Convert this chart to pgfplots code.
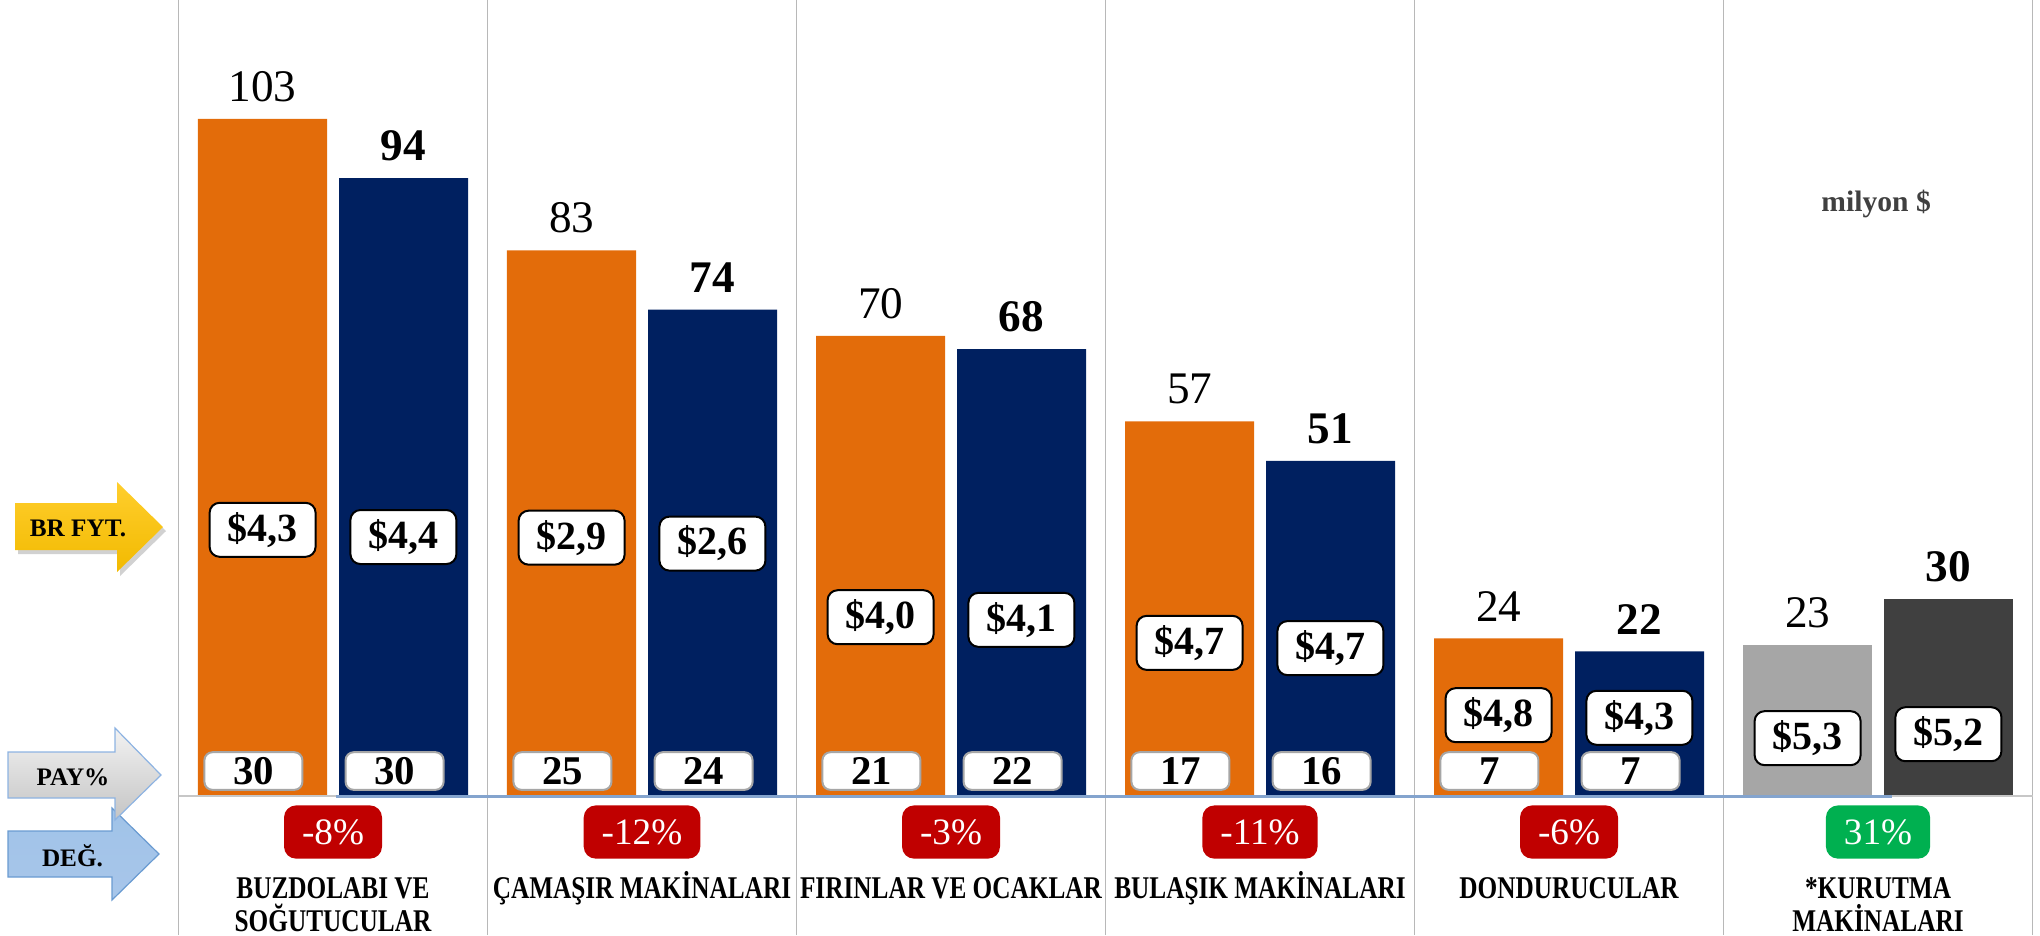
\documentclass[border=0pt]{standalone}
\usepackage{fontspec}
\setmainfont{Liberation Serif}
\newfontfamily\condfont{Liberation Serif}[FakeStretch=0.8]
\usepackage{pgfplots}
\pgfplotsset{compat=1.18}

\definecolor{barorange}{RGB}{227,108,10}
\definecolor{barnavy}{RGB}{0,32,96}
\definecolor{barlight}{RGB}{166,166,166}
\definecolor{bardark}{RGB}{64,64,64}
\definecolor{chgred}{RGB}{192,0,0}
\definecolor{chggreen}{RGB}{0,176,80}
\definecolor{lineblue}{RGB}{132,164,206}

\tikzset{
  valuelbl/.style={anchor=south, inner sep=0pt, yshift=4.1pt, font=\fontsize{11.3}{12}\selectfont},
  pricebox/.style={anchor=center, draw=black, line width=0.5pt, fill=white, rounded corners=2.5pt,
    minimum width=26.5pt, minimum height=13.5pt, inner sep=1pt, font=\bfseries\fontsize{10}{11}\selectfont},
  paybox/.style={anchor=center, draw=black!35, line width=0.5pt, fill=white, rounded corners=2pt,
    minimum width=24.5pt, minimum height=9.4pt, inner sep=0pt, font=\bfseries\fontsize{10.2}{10}\selectfont},
  chgbox/.style={anchor=center, draw=none, rounded corners=3pt, text=white,
    minimum height=13.3pt, inner xsep=4.5pt, inner ysep=0pt, font=\fontsize{9.3}{10}\selectfont},
}

\begin{document}
\begin{tikzpicture}
\useasboundingbox (0,0) rectangle (510pt,233.75pt);
\begin{axis}[
  at={(0,0)}, anchor=south west,
  width=510pt, height=233.75pt, scale only axis,
  xmin=-1.0777, xmax=5.5243, ymin=-21.147, ymax=121.10,
  clip=false,
  axis line style={draw=none},
  major tick length=0pt, minor tick length=0pt,
  ytick=\empty,
  xtick={0,...,5},
  xticklabels={{\rule{0pt}{7.2pt}BUZDOLABI VE\\SOĞUTUCULAR},
               {\rule{0pt}{7.2pt}ÇAMAŞIR MAKİNALARI},
               {\rule{0pt}{7.2pt}FIRINLAR VE OCAKLAR},
               {\rule{0pt}{7.2pt}BULAŞIK MAKİNALARI},
               {\rule{0pt}{7.2pt}DONDURUCULAR},
               {\rule{0pt}{7.2pt}*KURUTMA\\MAKİNALARI}},
  xticklabel style={font=\condfont\bfseries\fontsize{7.9}{8.25}\selectfont,
    align=center, anchor=north, inner sep=0pt, yshift=16.45pt},
  minor xtick={-0.5,0.5,...,5.5},
  xminorgrids,
  minor grid style={draw=black!28, line width=0.45pt},
  /pgf/number format/assume math mode=true,
]
% bars (milyon $)
\addplot[ybar, bar width=0.4175, bar shift=-0.2282, fill=barorange, draw=none,
  nodes near coords, nodes near coords style={valuelbl, xshift=-17.6pt}]
  coordinates {(0,103) (1,83) (2,70) (3,57) (4,24)};
\addplot[ybar, bar width=0.4175, bar shift=0.2282, fill=barnavy, draw=none,
  nodes near coords, nodes near coords style={valuelbl, xshift=17.6pt, font=\bfseries\fontsize{11.3}{12}\selectfont}]
  coordinates {(0,94) (1,74) (2,68) (3,51) (4,22)};
\addplot[ybar, bar width=0.4175, bar shift=-0.2282, fill=barlight, draw=none,
  nodes near coords, nodes near coords style={valuelbl, xshift=-17.6pt}]
  coordinates {(5,23)};
\addplot[ybar, bar width=0.4175, bar shift=0.2282, fill=bardark, draw=none,
  nodes near coords, nodes near coords style={valuelbl, xshift=17.6pt, font=\bfseries\fontsize{11.3}{12}\selectfont}]
  coordinates {(5,30)};

% base lines
\addplot[draw=black!22, line width=0.6pt, mark=none] coordinates {(-0.5,0) (5.5,0)};
\addplot[draw=lineblue, line width=0.8pt, mark=none] coordinates {(0.01,-0.12) (5.045,-0.12)};

% BR FYT. (unit price)
\addplot[draw=none, mark=none, point meta=explicit symbolic,
  nodes near coords={\$\pgfplotspointmeta}, nodes near coords style={pricebox, xshift=-17.6pt}]
  coordinates {(0,40.5) [{4,3}] (1,39.3) [{2,9}] (2,27.2) [{4,0}] (3,23.3) [{4,7}] (4,12.3) [{4,8}] (5,8.8) [{5,3}]};
\addplot[draw=none, mark=none, point meta=explicit symbolic,
  nodes near coords={\$\pgfplotspointmeta}, nodes near coords style={pricebox, xshift=17.6pt}]
  coordinates {(0,39.4) [{4,4}] (1,38.4) [{2,6}] (2,26.8) [{4,1}] (3,22.5) [{4,7}] (4,11.9) [{4,3}] (5,9.4) [{5,2}]};

% PAY%
\addplot[draw=none, mark=none, point meta=explicit symbolic,
  nodes near coords, nodes near coords style={paybox, xshift=-19.9pt}]
  coordinates {(0,3.8) [30] (1,3.8) [25] (2,3.8) [21] (3,3.8) [17] (4,3.8) [7]};
\addplot[draw=none, mark=none, point meta=explicit symbolic,
  nodes near coords, nodes near coords style={paybox, xshift=15.4pt}]
  coordinates {(0,3.8) [30] (1,3.8) [24] (2,3.8) [22] (3,3.8) [16] (4,3.8) [7]};

% DEĞ.
\addplot[draw=none, mark=none, point meta=explicit symbolic,
  nodes near coords, nodes near coords style={chgbox, fill=chgred}]
  coordinates {(0,-5.48) [-8\%] (1,-5.48) [-12\%] (2,-5.48) [-3\%] (3,-5.48) [-11\%] (4,-5.48) [-6\%]};
\addplot[draw=none, mark=none, point meta=explicit symbolic,
  nodes near coords, nodes near coords style={chgbox, fill=chggreen}]
  coordinates {(5,-5.48) [31\%]};

\node[font=\bfseries\fontsize{7.4}{8}\selectfont, text=black!75] at (axis cs:4.994,90.1) {milyon \$};
\end{axis}

% row arrows
\begin{scope}[yshift=233.75pt, x=0.25pt, y=-0.25pt]
  \fill[black!18] (18,507) -- (120,507) -- (120,486) -- (166,531) -- (120,576) -- (120,554) -- (18,554) -- cycle;
  \shade[top color={rgb,255:red,255;green,206;blue,45}, bottom color={rgb,255:red,242;green,186;blue,0}]
    (15,503) -- (117,503) -- (117,482) -- (163,527) -- (117,572) -- (117,550) -- (15,550) -- cycle;
  \node[font=\bfseries\fontsize{6.3}{7}\selectfont] at (78,528) {BR FYT.};

  \shade[draw={rgb,255:red,106;green,155;blue,209}, line width=0.3pt,
    top color={rgb,255:red,160;green,195;blue,232}, bottom color={rgb,255:red,168;green,198;blue,234}]
    (8,831) -- (112,831) -- (112,808) -- (159,854) -- (112,900) -- (112,877) -- (8,877) -- cycle;
  \node[font=\bfseries\fontsize{6.3}{7}\selectfont] at (72.5,856) {DEĞ.};

  \shade[draw={rgb,255:red,141;green,179;blue,226}, line width=0.3pt,
    top color={rgb,255:red,242;green,242;blue,242}, bottom color={rgb,255:red,196;green,196;blue,196}]
    (8,752) -- (115,752) -- (115,728) -- (161,775) -- (115,820) -- (115,798) -- (8,798) -- cycle;
  \node[font=\bfseries\fontsize{6.3}{7}\selectfont] at (73,777) {PAY\%};
\end{scope}
\end{tikzpicture}
\end{document}
